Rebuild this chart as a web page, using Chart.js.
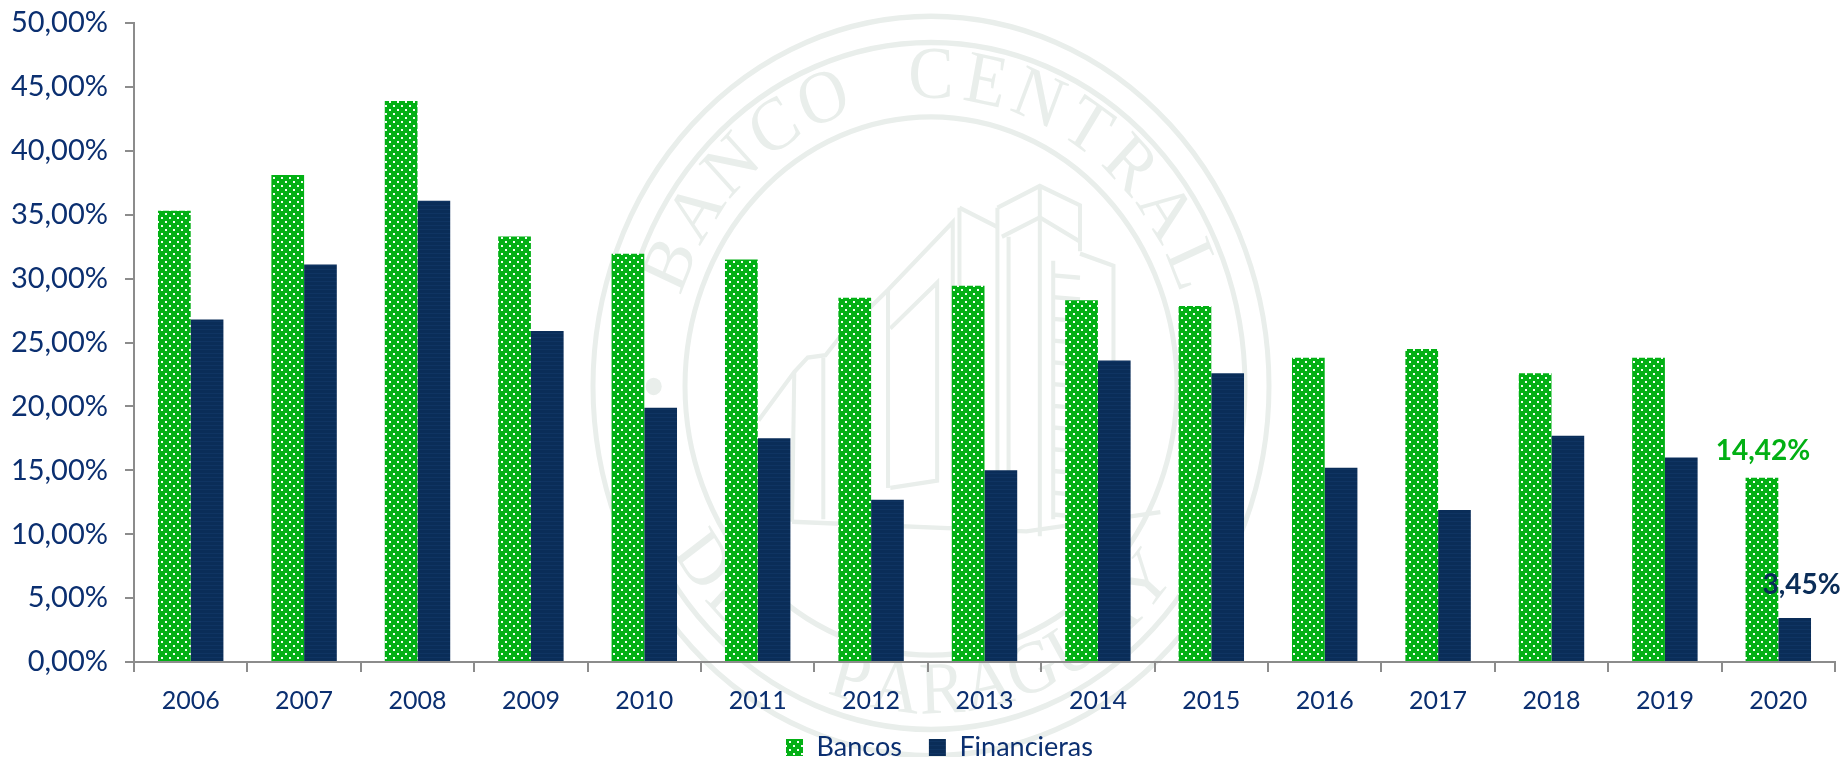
<!DOCTYPE html>
<html><head><meta charset="utf-8">
<style>html,body{margin:0;padding:0;background:#fff}canvas{display:block}</style>
<script src="https://cdn.jsdelivr.net/npm/chart.js@4"></script>
</head><body><canvas id="c" width="1847" height="757"></canvas>
<script>
const years=['2006','2007','2008','2009','2010','2011','2012','2013','2014','2015','2016','2017','2018','2019','2020'];
const bancos=[35.3,38.1,43.9,33.3,31.95,31.5,28.5,29.45,28.3,27.85,23.8,24.5,22.6,23.8,14.42];
const financieras=[26.8,31.1,36.1,25.9,19.9,17.5,12.7,15.0,23.6,22.6,15.2,11.9,17.7,16.0,3.45];
const INK='#0b2f70', GREEN='#02b014', NAVY='#0a2d58', AXIS='#8c8c8c', FONT='Lato';

function dots(){const c=document.createElement('canvas');c.width=8;c.height=8;const x=c.getContext('2d');
 x.fillStyle=GREEN;x.fillRect(0,0,8,8);x.fillStyle='#f4fff4';x.fillRect(1,1,2,2);x.fillRect(5,5,2,2);return x.createPattern(c,'repeat');}
function stripes(){const c=document.createElement('canvas');c.width=4;c.height=4;const x=c.getContext('2d');
 x.fillStyle=NAVY;x.fillRect(0,0,4,4);x.fillStyle='#0f3462';x.fillRect(0,1,4,1);return x.createPattern(c,'repeat');}

function arcText(ctx,str,r,a0,a1,bottom){
 const n=str.length;
 for(let i=0;i<n;i++){
  const a=a0+(a1-a0)*i/(n-1);
  ctx.save();ctx.rotate(a);ctx.translate(0,bottom?r:-r);ctx.fillText(str[i],0,0);ctx.restore();
 }
}
const watermark={id:'watermark',beforeDraw(ch){
 const c=ch.ctx;c.save();c.translate(931,386);c.scale(1,1.094);
 c.strokeStyle='#e9eeeb';c.lineWidth=5;
 for(const r of [338,314,246]){c.beginPath();c.arc(0,0,r,0,Math.PI*2);c.stroke();}
 c.fillStyle='#e9eeeb';c.font='68px "Liberation Serif"';c.textAlign='center';c.textBaseline='middle';
 const d=Math.PI/180;
 arcText(c,'BANCO CENTRAL',281,-67*d,67*d,false);
 arcText(c,'DEL PARAGUAY',281,55*d,-50*d,true);
 c.restore();
 c.save();c.translate(580,0);c.scale(1/2.24,1/2.07);
 c.strokeStyle='#e9eeeb';c.lineWidth=9;c.lineJoin='miter';
 const paths=[
  [[400,870],[480,770],[510,740],[550,735],[580,700],[690,600],[835,460],[835,1000]],
  [[480,770],[475,1080]],[[545,740],[545,1075]],[[690,600],[690,1010]],
  [[695,680],[800,585],[800,995],[695,1010]],
  [[850,430],[850,1090]],[[850,430],[935,470]],
  [[935,430],[1030,385],[1120,425],[1120,520]],[[945,490],[1030,450],[1120,500]],
  [[935,430],[935,1100]],[[960,490],[960,1100]],[[1030,385],[1030,1110]],
  [[1060,540],[1060,1075]],[[1120,525],[1195,550],[1195,1040]],[[475,1080],[1000,1100],[1300,1060]]
 ];
 for(let y=570;y<1070;y+=45)paths.push([[1060,y],[1120,y+5]]);
 for(const p of paths){c.beginPath();p.forEach((q,i)=>i?c.lineTo(q[0],q[1]):c.moveTo(q[0],q[1]));c.stroke();}
 c.fillStyle='#e9eeeb';c.beginPath();c.arc(165,800,18,0,Math.PI*2);c.fill();
 c.restore();
}};
const endLabels={id:'endLabels',afterDatasetsDraw(ch){
 const c=ch.ctx,last=years.length-1;c.save();
 c.font='bold 28px '+FONT;c.textAlign='center';c.textBaseline='middle';
 const s=[[0,GREEN,1,-27],[1,NAVY,7,-33]];
 for(const [ds,col,dx,dy] of s){
  const el=ch.getDatasetMeta(ds).data[last],v=ch.data.datasets[ds].data[last];
  c.fillStyle=col;c.fillText(v.toFixed(2).replace('.',',')+'%',el.x+dx,el.y+dy);
 }
 c.restore();
}};
const legendShift={id:'legendShift',afterLayout(ch){const l=ch.legend;l.left+=22;l.right+=22;l.top-=11;l.bottom-=11;}};

new Chart(document.getElementById('c'),{
 type:'bar',
 data:{labels:years,datasets:[
  {label:'Bancos',data:bancos,backgroundColor:dots(),barPercentage:1,categoryPercentage:0.577},
  {label:'Financieras',data:financieras,backgroundColor:stripes(),barPercentage:1,categoryPercentage:0.577}
 ]},
 plugins:[watermark,endLabels,legendShift],
 options:{responsive:false,animation:false,
  layout:{padding:{top:23,right:12,left:0,bottom:-25}},
  plugins:{tooltip:{enabled:false},title:{display:false},
   legend:{position:'bottom',labels:{font:{family:FONT,size:27},color:INK,boxWidth:17,boxHeight:17,padding:27}}},
  scales:{
   x:{offset:true,afterFit:s=>{s.height=56;s.paddingLeft=0;s.paddingRight=0;},
    grid:{display:true,drawOnChartArea:false,drawTicks:true,tickLength:10,color:AXIS,lineWidth:2,offset:true},
    border:{color:AXIS,width:2},
    ticks:{font:{family:FONT,size:25},color:INK,padding:14,maxRotation:0,autoSkip:false}},
   y:{min:0,max:50,afterFit:s=>{s.width=134;s.paddingTop=0;s.paddingBottom=0;},
    grid:{display:true,drawOnChartArea:false,drawTicks:true,tickLength:9,color:AXIS,lineWidth:2},
    border:{color:AXIS,width:2},
    ticks:{stepSize:5,font:{family:FONT,size:29},color:INK,padding:17,
     callback:v=>v.toFixed(2).replace('.',',')+'%'}}
  }}
});
</script></body></html>
